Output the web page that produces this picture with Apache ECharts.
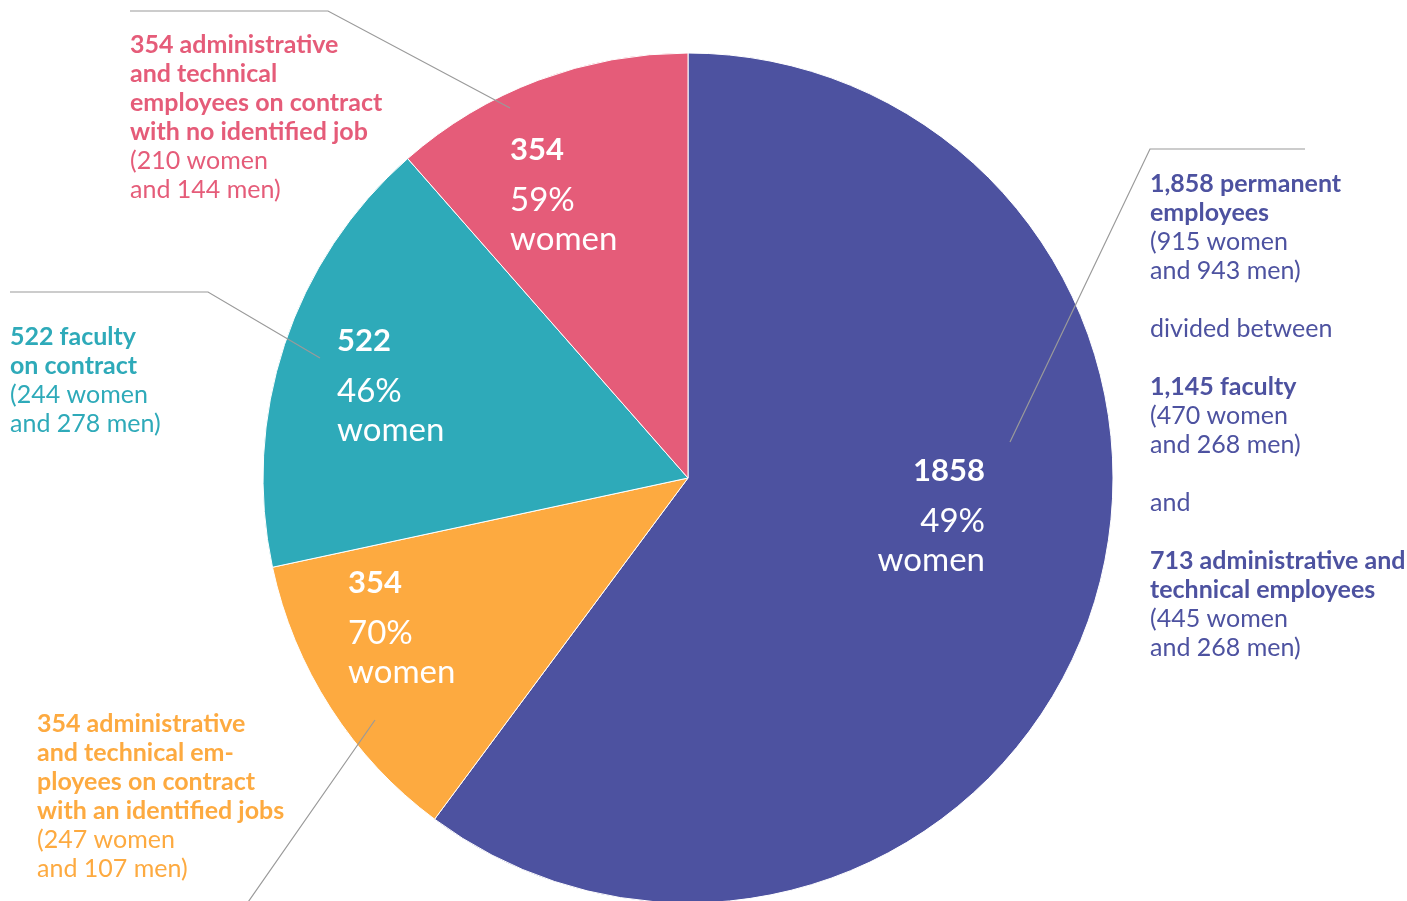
<!DOCTYPE html>
<html>
<head>
<meta charset="utf-8">
<script src="https://cdn.jsdelivr.net/npm/echarts@6/dist/echarts.min.js"></script>
<style>
html, body { margin: 0; padding: 0; background: #fff; }
#main { width: 1407px; height: 901px; }
</style>
</head>
<body>
<div id="main"></div>
<script>
// staff groups, clockwise from 12 o'clock
const categories = ['permanent', 'contract identified job', 'faculty contract', 'contract no identified job']
const totals = [1858, 354, 522, 354]
const womenPct = [49, 70, 46, 59]
const women = [915, 247, 244, 210]
const men = [943, 107, 278, 144]
const titles = [
	['1,858 permanent', 'employees'],
	['354 administrative', 'and technical em-', 'ployees on contract', 'with an identified jobs'],
	['522 faculty', 'on contract'],
	['354 administrative', 'and technical', 'employees on contract', 'with no identified job']
]
// breakdown of the permanent employees
const subTitles = [['1,145 faculty'], ['713 administrative and', 'technical employees']]
const subWomen = [470, 445]
const subMen = [268, 268]

const colors = ['#4d52a0', '#fdaa40', '#2eaab9', '#e55c79']
const font = 'Lato'

// label placement (pixels)
const innerPos = [[985, 440, 'right'], [348, 552, 'left'], [337, 310, 'left'], [510, 119, 'left']]
const outerPos = [[1150, 169], [37, 709], [10, 322], [130, 30]]
const leaders = [
	[[1010, 442], [1150, 149], [1305, 149]],
	[[375, 720], [246, 905], [37, 905]],
	[[320, 358], [208, 292], [10, 292]],
	[[510, 108], [328, 11], [130, 11]]
]

function outerText (i) {
	let lines = titles[i].map(t => '{b|' + t + '}')
	lines.push('(' + women[i] + ' women', 'and ' + men[i] + ' men)')
	if (i === 0) {
		lines.push('', 'divided between')
		subTitles.forEach(function (st, k) {
			if (k > 0) lines.push('', 'and')
			lines.push('')
			st.forEach(t => lines.push('{b|' + t + '}'))
			lines.push('(' + subWomen[k] + ' women', 'and ' + subMen[k] + ' men)')
		})
	}
	return lines.join('\n')
}

let myChart = echarts.init(document.getElementById('main'))
let pieBase = {
	type: 'pie',
	center: [688, 478],
	radius: 425,
	startAngle: 90,
	clockwise: true,
	animation: false,
	silent: true
}
let option = {
	series: [
		Object.assign({}, pieBase, {
			z: 2,
			itemStyle: { borderColor: '#fff', borderWidth: 1 },
			label: {
				show: true,
				position: 'inside',
				fontFamily: font,
				color: '#fff',
				formatter: function (p) {
					let i = p.dataIndex
					return '{n|' + totals[i] + '}\n{p|' + womenPct[i] + '%}\n{p|women}'
				},
				rich: {
					n: { fontFamily: font, fontWeight: 'bold', fontSize: 31, lineHeight: 62, color: '#fff' },
					p: { fontFamily: font, fontSize: 33, lineHeight: 39, color: '#fff' }
				}
			},
			labelLayout: function (p) {
				let pos = innerPos[p.dataIndex]
				return { x: pos[0], y: pos[1], align: pos[2], verticalAlign: 'top' }
			},
			data: totals.map((v, i) => ({ name: categories[i], value: v, itemStyle: { color: colors[i] } }))
		}),
		Object.assign({}, pieBase, {
			z: 5,
			itemStyle: { color: 'transparent', borderWidth: 0 },
			label: {
				show: true,
				position: 'outside',
				fontFamily: font,
				fontSize: 25,
				lineHeight: 29,
				formatter: function (p) { return outerText(p.dataIndex) },
				rich: {
					b: { fontFamily: font, fontWeight: 'bold', fontSize: 25, lineHeight: 29 }
				}
			},
			labelLine: { show: true, lineStyle: { color: '#9a9a9a', width: 1.2 } },
			labelLayout: function (p) {
				let pos = outerPos[p.dataIndex]
				return {
					x: pos[0], y: pos[1], align: 'left', verticalAlign: 'top',
					labelLinePoints: leaders[p.dataIndex]
				}
			},
			data: totals.map((v, i) => ({ name: categories[i], value: v, label: { color: colors[i] } }))
		})
	]
}
myChart.setOption(option)
</script>
</body>
</html>
